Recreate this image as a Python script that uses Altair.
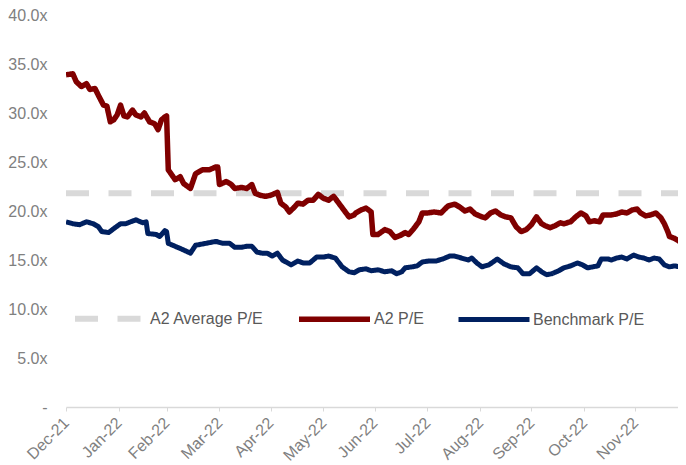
import altair as alt
import pandas as pd

# Day offsets from 31 Dec 2021 and P/E values
a2_days = [0,4,6,9,12,14,17,19,22,24,26,28,30,32,34,36,39,41,44,46,49,52,54,56,58,59,60,62,64,67,
           69,73,76,80,84,88,89,90,94,97,99,103,106,109,111,114,117,120,124,126,129,131,134,136,139,
           142,145,148,151,154,157,160,163,166,169,170,173,176,179,180,183,187,190,193,196,199,201,
           204,207,209,212,216,220,224,228,231,234,237,240,244,246,249,252,255,258,261,264,267,270,
           273,276,279,281,284,287,290,292,296,299,302,305,307,310,313,315,317,320,323,326,329,332,
           335,337,340,343,346,349,351,353,354,357,359,362]
a2_vals = [33.9,34.0,33.2,32.7,33.0,32.4,32.5,31.8,30.8,30.7,
           29.1,29.3,29.8,30.8,29.7,29.6,30.3,29.8,29.6,30.0,
           29.1,28.9,28.3,29.3,29.6,29.7,24.2,23.7,23.2,23.5,
           22.8,22.3,23.8,24.2,24.2,24.5,24.5,22.7,23.0,22.7,
           22.3,22.4,22.3,22.7,21.8,21.6,21.5,21.6,21.9,20.8,
           20.4,19.9,20.4,20.8,20.7,21.1,21.1,21.7,21.3,21.1,
           21.5,20.8,20.1,19.4,19.6,19.8,20.1,20.3,19.9,17.6,
           17.6,18.1,17.9,17.3,17.5,17.8,17.6,18.2,18.9,19.8,
           19.8,19.9,19.8,20.5,20.7,20.4,20.0,20.2,19.7,19.4,
           19.3,19.8,20.0,19.6,19.4,19.3,18.4,17.9,18.1,18.6,
           19.4,18.7,18.5,18.3,18.5,18.8,18.7,18.9,19.4,19.8,
           19.5,18.9,19.0,18.9,19.6,19.6,19.6,19.7,19.9,19.8,
           20.1,20.2,19.8,19.5,19.6,19.8,19.3,18.7,17.9,17.4,
           17.2,17.0,16.6]

bench_days = [0,4,8,12,16,19,21,25,28,32,35,38,41,45,47,48,53,55,58,59,60,64,68,73,76,82,88,92,96,99,
              103,106,109,112,115,118,121,124,127,130,132,136,139,143,147,151,154,158,162,166,169,172,
              176,179,183,187,191,194,197,199,203,206,209,213,217,221,225,228,232,236,238,241,244,248,
              253,257,261,265,268,272,276,279,282,285,289,292,296,300,303,306,309,312,314,318,320,323,
              326,329,333,336,339,342,345,348,351,354,357,360,362]
bench_vals = [18.9,18.7,18.6,18.9,18.7,18.4,17.9,17.8,18.2,18.7,
              18.7,18.9,19.1,18.8,18.9,17.7,17.6,17.4,18.0,17.9,
              16.7,16.4,16.1,15.7,16.5,16.7,16.9,16.7,16.7,16.3,
              16.3,16.4,16.4,15.8,15.7,15.7,15.4,15.7,15.0,14.7,
              14.5,14.9,14.7,14.7,15.3,15.3,15.4,15.2,14.3,13.8,
              13.7,14.0,14.1,13.9,14.0,13.8,13.9,13.6,13.8,14.2,
              14.3,14.4,14.8,14.9,14.9,15.1,15.4,15.4,15.2,15.0,
              15.2,14.7,14.3,14.5,15.1,14.6,14.3,14.2,13.6,13.6,
              14.2,13.8,13.5,13.6,13.9,14.2,14.4,14.7,14.5,14.2,
              14.3,14.4,15.1,15.1,15.0,15.2,15.3,15.1,15.5,15.3,
              15.2,15.0,15.2,15.1,14.5,14.3,14.4,14.3,14.5]

avg_days = [0, 362]
avg_vals = [21.8, 21.8]

series_names = ["A2 Average P/E", "A2 P/E", "Benchmark P/E"]
series_colors = ["#d9d9d9", "#800000", "#002060"]

start = pd.Timestamp("2021-12-31")

def frame(name, days, vals):
    return pd.DataFrame({
        "date": start + pd.to_timedelta(days, unit="D"),
        "pe": vals,
        "series": name,
    })

df = pd.concat([
    frame(series_names[0], avg_days, avg_vals),
    frame(series_names[1], a2_days, a2_vals),
    frame(series_names[2], bench_days, bench_vals),
], ignore_index=True)

tick_dates = [
    alt.DateTime(year=2021, month=12, date=31),
    alt.DateTime(year=2022, month=1, date=31),
    alt.DateTime(year=2022, month=2, date=28),
    alt.DateTime(year=2022, month=3, date=31),
    alt.DateTime(year=2022, month=4, date=30),
    alt.DateTime(year=2022, month=5, date=31),
    alt.DateTime(year=2022, month=6, date=30),
    alt.DateTime(year=2022, month=7, date=31),
    alt.DateTime(year=2022, month=8, date=31),
    alt.DateTime(year=2022, month=9, date=30),
    alt.DateTime(year=2022, month=10, date=31),
    alt.DateTime(year=2022, month=11, date=30),
]

legend = alt.Legend(
    title=None, orient="none", legendX=6, legendY=265, direction="horizontal",
    symbolType="stroke", symbolSize=5041, symbolStrokeWidth=5,
    labelFont="Liberation Sans", labelFontSize=16, labelColor="#595959",
    labelOffset=1, columnPadding=24, labelLimit=300,
)

chart = alt.Chart(df).mark_line(strokeJoin="round", clip=True).encode(
    x=alt.X("date:T",
            scale=alt.Scale(domain=[alt.DateTime(year=2021, month=12, date=31),
                                    alt.DateTime(year=2022, month=12, date=25)], nice=False),
            axis=alt.Axis(values=tick_dates, format="%b-%y", labelAngle=-45, title=None,
                          grid=False, labelFont="Liberation Sans", labelFontSize=16,
                          labelColor="#808080", domainColor="#d9d9d9", domainWidth=1.5,
                          tickColor="#d9d9d9", tickSize=4, labelPadding=9,
                          labelBaseline="middle", labelAlign="right")),
    y=alt.Y("pe:Q", scale=alt.Scale(domain=[0, 40], nice=False),
            axis=alt.Axis(values=[0, 5, 10, 15, 20, 25, 30, 35, 40], title=None, grid=False,
                          domain=False, ticks=False, labelPadding=19,
                          labelFont="Liberation Sans", labelFontSize=16, labelColor="#808080",
                          labelExpr="datum.value == 0 ? '-' : format(datum.value, '.1f') + 'x'")),
    color=alt.Color("series:N", scale=alt.Scale(domain=series_names, range=series_colors),
                    legend=legend),
    strokeDash=alt.StrokeDash("series:N",
                              scale=alt.Scale(domain=series_names, range=[[23, 19.5], [1, 0], [1, 0]]),
                              legend=legend),
    strokeWidth=alt.StrokeWidth("series:N",
                                scale=alt.Scale(domain=series_names, range=[6, 5, 5]),
                                legend=None),
    order=alt.Order("date:T"),
).properties(
    width=612, height=392,
    autosize=alt.AutoSizeParams(type="none"),
    padding={"left": 58, "top": 7, "right": 0, "bottom": 58},
).configure_view(stroke=None)

chart.save("out.html", embed_options={"renderer": "svg", "actions": False})
